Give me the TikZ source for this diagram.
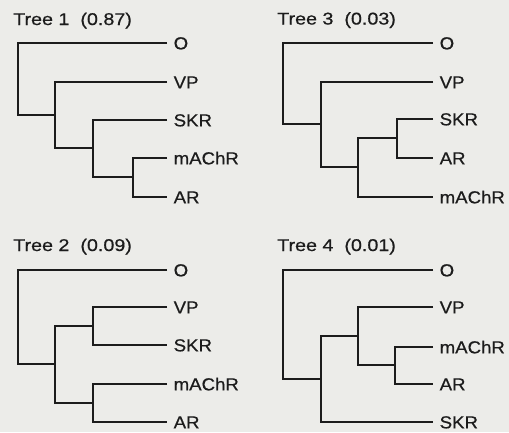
\documentclass[tikz,border=0pt]{standalone}
\usepackage{fontspec}
\setmainfont{Liberation Sans}[FakeStretch=1.07,FakeBold=0.6]
\newfontfamily\titlefont{Liberation Sans}[FakeStretch=1.16,FakeBold=0.6]
\definecolor{paper}{RGB}{236,236,233}
\definecolor{ink}{RGB}{28,28,28}
\tikzset{
  branch/.style={draw=ink, line width=2.3pt, line join=miter},
  leaf/.style={anchor=west, inner xsep=6.5pt, inner ysep=0pt, text=ink,
    font=\fontsize{17.4}{20}\selectfont, text height=12.7pt, text depth=0pt},
  treetitle/.style={anchor=base west, inner sep=0pt, text=ink,
    font=\titlefont\fontsize{17}{20}\selectfont}
}
\begin{document}
\begin{tikzpicture}[x=1pt,y=-1pt]
\path[fill=paper] (0,0) rectangle (509,432);
\useasboundingbox (0,0) rectangle (509,432);

% ---------- Tree 1 ----------
\node[treetitle] (t1title) at (13,25) {Tree 1~~(0.87)};
\node[leaf] (t1o) at (167,43) {O};
\node[leaf] (t1v) at (167,82) {VP};
\node[leaf] (t1s) at (167,120) {SKR};
\node[leaf] (t1m) at (167,158) {mAChR};
\node[leaf] (t1a) at (167,197) {AR};
\coordinate (t1n3) at (133,177);
\coordinate (t1n2) at (93,148);
\coordinate (t1n1) at (55,115);
\coordinate (t1r) at (18,79);
\draw[branch] (t1m.west) -| (t1n3) |- (t1a.west);
\draw[branch] (t1s.west) -| (t1n2) |- (t1n3);
\draw[branch] (t1v.west) -| (t1n1) |- (t1n2);
\draw[branch] (t1o.west) -| (t1r) |- (t1n1);

% ---------- Tree 3 ----------
\node[treetitle] (t3title) at (277,24.5) {Tree 3~~(0.03)};
\node[leaf] (t3o) at (433,43) {O};
\node[leaf] (t3v) at (433,82) {VP};
\node[leaf] (t3s) at (433,119) {SKR};
\node[leaf] (t3a) at (433,158) {AR};
\node[leaf] (t3m) at (433,197) {mAChR};
\coordinate (t3n3) at (397,138);
\coordinate (t3n2) at (358,167);
\coordinate (t3n1) at (321,124);
\coordinate (t3r) at (283,84);
\draw[branch] (t3s.west) -| (t3n3) |- (t3a.west);
\draw[branch] (t3n3) -| (t3n2) |- (t3m.west);
\draw[branch] (t3v.west) -| (t3n1) |- (t3n2);
\draw[branch] (t3o.west) -| (t3r) |- (t3n1);

% ---------- Tree 2 ----------
\node[treetitle] (t2title) at (13,251) {Tree 2~~(0.09)};
\node[leaf] (t2o) at (167,270) {O};
\node[leaf] (t2v) at (167,307) {VP};
\node[leaf] (t2s) at (167,345) {SKR};
\node[leaf] (t2m) at (167,384) {mAChR};
\node[leaf] (t2a) at (167,422) {AR};
\coordinate (t2n2) at (93,326);
\coordinate (t2n3) at (93,403);
\coordinate (t2n1) at (55,364);
\coordinate (t2r) at (18,317);
\draw[branch] (t2v.west) -| (t2n2) |- (t2s.west);
\draw[branch] (t2m.west) -| (t2n3) |- (t2a.west);
\draw[branch] (t2n2) -| (t2n1) |- (t2n3);
\draw[branch] (t2o.west) -| (t2r) |- (t2n1);

% ---------- Tree 4 ----------
\node[treetitle] (t4title) at (277,251) {Tree 4~~(0.01)};
\node[leaf] (t4o) at (433,270) {O};
\node[leaf] (t4v) at (433,307) {VP};
\node[leaf] (t4m) at (433,347) {mAChR};
\node[leaf] (t4a) at (433,384) {AR};
\node[leaf] (t4s) at (433,422) {SKR};
\coordinate (t4n3) at (395,365);
\coordinate (t4n2) at (358,336);
\coordinate (t4n1) at (321,379);
\coordinate (t4r) at (283,324);
\draw[branch] (t4m.west) -| (t4n3) |- (t4a.west);
\draw[branch] (t4v.west) -| (t4n2) |- (t4n3);
\draw[branch] (t4n2) -| (t4n1) |- (t4s.west);
\draw[branch] (t4o.west) -| (t4r) |- (t4n1);
\end{tikzpicture}
\end{document}
